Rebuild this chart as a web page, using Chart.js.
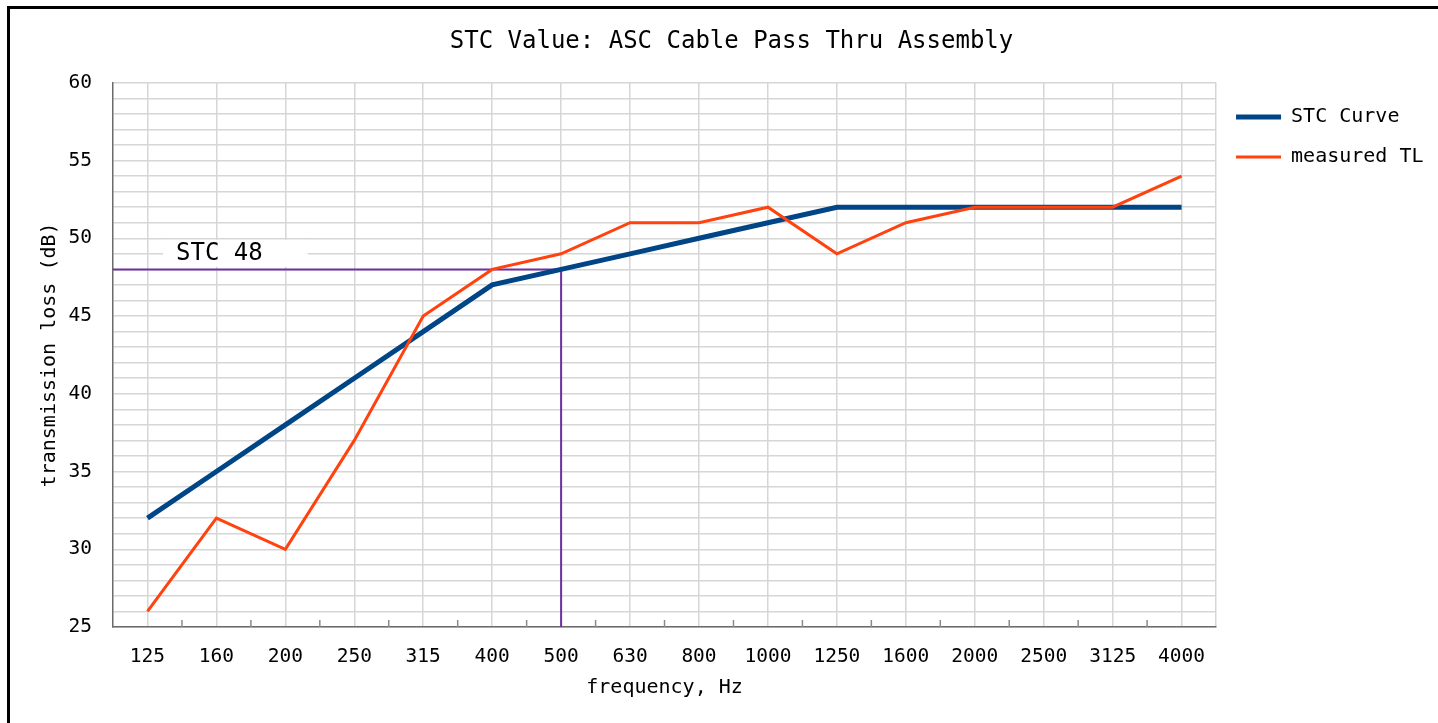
<!DOCTYPE html>
<html>
<head>
<meta charset="utf-8">
<title>STC Value: ASC Cable Pass Thru Assembly</title>
<script src="https://cdn.jsdelivr.net/npm/chart.js@4.4.1/dist/chart.umd.min.js"></script>
<style>
  html, body { margin: 0; padding: 0; background: #fff; overflow: hidden; }
  #frame {
    position: absolute; left: 7px; top: 6px;
    border-left: 3px solid #000; border-top: 3px solid #000;
    width: 1440px; height: 730px;
  }
  #wrap { position: relative; width: 1428px; height: 714px; }
</style>
</head>
<body>
<div id="frame">
  <div id="wrap"><canvas id="chart"></canvas></div>
</div>
<script>
// 1/3-octave bands and the two curves
const FREQS = ["125","160","200","250","315","400","500","630","800","1000","1250","1600","2000","2500","3125","4000"];
const STC_CURVE   = [32, 35, 38, 41, 44, 47, 48, 49, 50, 51, 52, 52, 52, 52, 52, 52];
const MEASURED_TL = [26, 32, 30, 37, 45, 48, 49, 51, 51, 52, 49, 51, 52, 52, 52, 54];
const STC_RATING = 48;
const STC_BAND = FREQS.indexOf("500");
const Y_MIN = 25, Y_MAX = 60;

const MONO = "'DejaVu Sans Mono', monospace";
const GRID = "#d6d6d6";
const AXIS = "#6b6b6b";

const toPoints = arr => arr.map((v, i) => ({ x: i, y: v }));

// small ticks between bands and the "STC 48" tag
const extras = {
  id: "extras",
  beforeDatasetsDraw(chart) {
    const { ctx, chartArea, scales: { x } } = chart;
    ctx.save();
    ctx.strokeStyle = "#8a8a8a";
    ctx.lineWidth = 1.5;
    for (let i = 0; i < FREQS.length - 1; i++) {
      const px = x.getPixelForValue(i + 0.5);
      ctx.beginPath();
      ctx.moveTo(px, chartArea.bottom);
      ctx.lineTo(px, chartArea.bottom - 7);
      ctx.stroke();
    }
    ctx.restore();
  },
  afterDatasetsDraw(chart) {
    const { ctx, scales: { x, y } } = chart;
    const label = "STC " + STC_RATING;
    ctx.save();
    ctx.font = "24px " + MONO;
    const w = ctx.measureText(label).width;
    const cx = x.getPixelForValue(1) + 3;
    const cy = y.getPixelForValue(STC_RATING + 1);
    ctx.fillStyle = "#fff";
    ctx.fillRect(cx - w / 2 - 13, cy - 14, w + 58, 27);
    ctx.fillStyle = "#000";
    ctx.textAlign = "center";
    ctx.textBaseline = "middle";
    ctx.fillText(label, cx, cy);
    ctx.restore();
  }
};

new Chart(document.getElementById("chart"), {
  type: "line",
  data: {
    datasets: [
      {
        label: "STC Curve",
        data: toPoints(STC_CURVE),
        borderColor: "#004586",
        backgroundColor: "#004586",
        borderWidth: 5,
        pointRadius: 0,
        order: 2
      },
      {
        label: "measured TL",
        data: toPoints(MEASURED_TL),
        borderColor: "#ff420e",
        backgroundColor: "#ff420e",
        borderWidth: 3,
        pointRadius: 0,
        order: 1
      },
      {
        label: "STC rating",
        data: [
          { x: -0.5, y: STC_RATING },
          { x: STC_BAND, y: STC_RATING },
          { x: STC_BAND, y: Y_MIN }
        ],
        borderColor: "#7030a0",
        borderWidth: 2,
        pointRadius: 0,
        order: 3
      }
    ]
  },
  options: {
    responsive: true,
    maintainAspectRatio: false,
    animation: false,
    layout: { padding: { left: 19.5, right: 4.5, top: 0, bottom: 0 } },
    plugins: {
      title: {
        display: true,
        text: "STC Value: ASC Cable Pass Thru Assembly",
        color: "#000",
        font: { family: MONO, size: 24, weight: "normal" },
        padding: { top: 18, bottom: 27 }
      },
      legend: {
        position: "right",
        align: "start",
        title: { display: true, text: "", font: { size: 10 }, padding: { top: 66, bottom: 0 } },
        labels: {
          usePointStyle: true,
          pointStyle: "line",
          pointStyleWidth: 45,
          padding: 20,
          color: "#000",
          font: { family: MONO, size: 20 },
          filter: item => item.datasetIndex < 2,
          sort: (a, b) => a.datasetIndex - b.datasetIndex
        }
      },
      tooltip: { enabled: false }
    },
    scales: {
      x: {
        type: "linear",
        min: -0.5,
        max: FREQS.length - 0.5,
        afterBuildTicks: s => {
          s.ticks = FREQS.map((f, i) => ({ value: i })).concat([{ value: FREQS.length - 0.5 }]);
        },
        afterFit: s => { s.height = 96; },
        grid: { color: GRID, lineWidth: 1.5, drawTicks: false },
        border: { color: AXIS, width: 1.5 },
        ticks: {
          autoSkip: false,
          maxRotation: 0,
          padding: 18,
          color: "#000",
          font: { family: MONO, size: 19.5 },
          callback: v => FREQS[v] ?? ""
        },
        title: {
          display: true,
          text: "frequency, Hz",
          color: "#000",
          font: { family: MONO, size: 20 },
          padding: { top: 0, bottom: 23 }
        }
      },
      y: {
        min: Y_MIN,
        max: Y_MAX,
        afterFit: s => { s.width = 83.5; },
        grid: { color: GRID, lineWidth: 1.5, drawTicks: false },
        border: { color: AXIS, width: 1.5 },
        ticks: {
          stepSize: 1,
          autoSkip: false,
          padding: 21,
          color: "#000",
          font: { family: MONO, size: 19.5 },
          callback: v => (v % 5 === 0 ? v : "")
        },
        title: {
          display: true,
          text: "transmission loss (dB)",
          color: "#000",
          font: { family: MONO, size: 20 },
          padding: { top: 8.5, bottom: 0 }
        }
      }
    }
  },
  plugins: [extras]
});
</script>
</body>
</html>
